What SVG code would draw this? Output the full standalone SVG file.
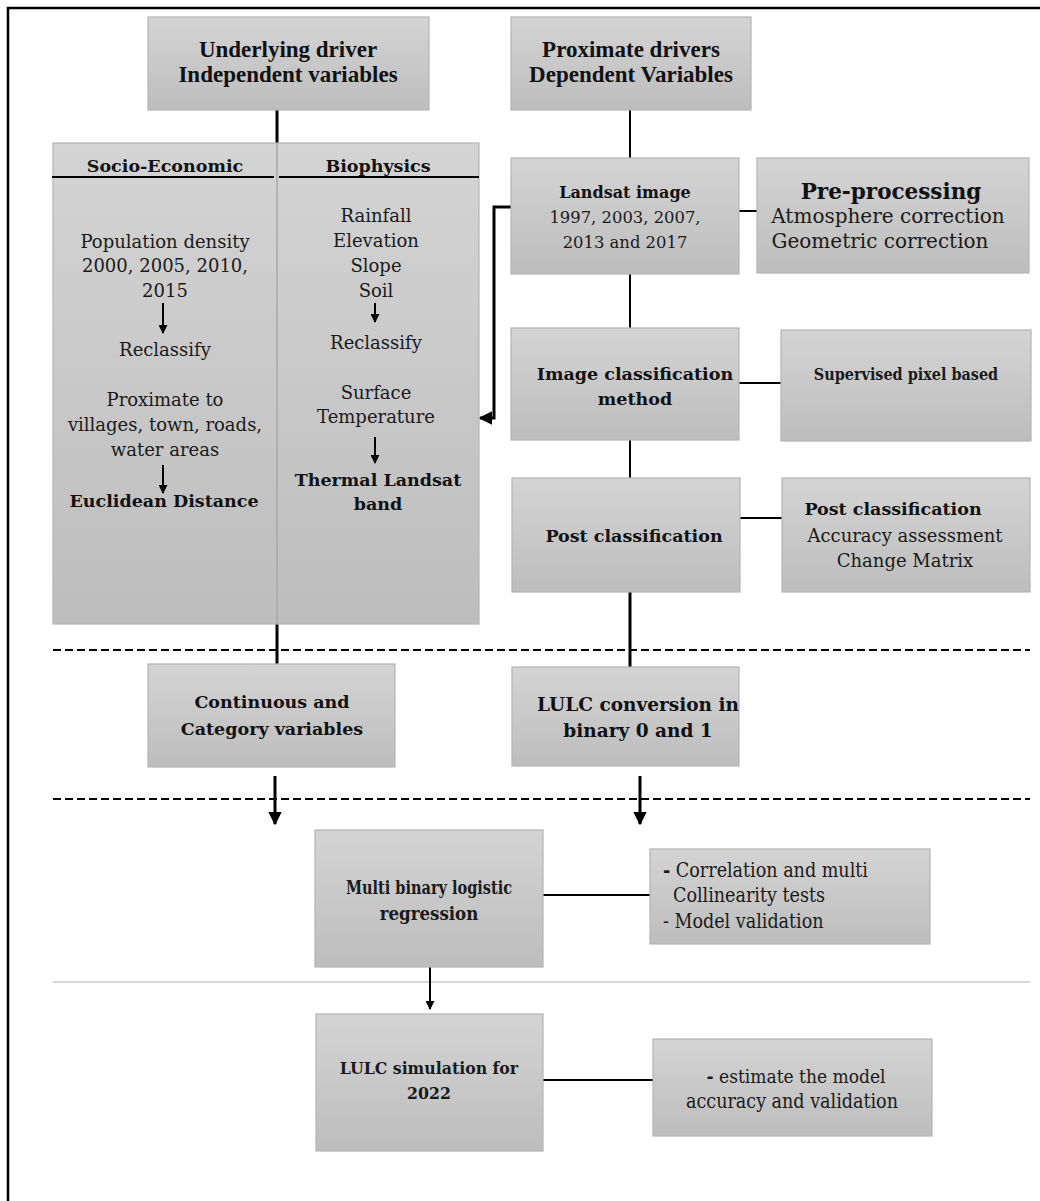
<svg xmlns="http://www.w3.org/2000/svg" width="1040" height="1201" viewBox="0 0 1040 1201">
  <style>
    .box { stroke: #b4b4b4; stroke-width: 1.2; fill: url(#boxFill); }
    .t { font-family: "DejaVu Serif", "Liberation Serif", serif; font-size: 18px; fill: #1a1a1a; text-anchor: middle; }
    .b { font-family: "DejaVu Serif", "Liberation Serif", serif; font-size: 17.5px; font-weight: bold; fill: #111; text-anchor: middle; }
    .c { font-family: "DejaVu Serif Condensed", "DejaVu Serif", serif; font-size: 17.5px; fill: #1a1a1a; text-anchor: middle; }
    .tb { font-family: "Liberation Serif", serif; font-size: 23px; font-weight: bold; fill: #111; text-anchor: middle; }
    .l { text-anchor: start; }
    .thick { stroke: #000; stroke-width: 3; fill: none; }
    .thin { stroke: #000; stroke-width: 2; fill: none; }
    .dash { stroke: #000; stroke-width: 2; stroke-dasharray: 8 4; fill: none; }
  </style>
  <defs>
    <linearGradient id="boxFill" x1="0" y1="0" x2="0" y2="1">
      <stop offset="0" stop-color="#d4d4d4"/>
      <stop offset="1" stop-color="#bdbdbd"/>
    </linearGradient>
    <marker id="ah" viewBox="0 0 10 10" refX="9" refY="5" markerWidth="4.5" markerHeight="4.5" orient="auto" markerUnits="strokeWidth">
      <path d="M0,0 L10,5 L0,10 z" fill="#000"/>
    </marker>
  </defs>

  <rect width="1040" height="1201" fill="#fff"/>
  <!-- page frame -->
  <path d="M8,1201 V8 H1040" stroke="#000" stroke-width="2.5" fill="none"/>

  <!-- section separators -->
  <g id="separators">
    <line class="dash" x1="53" y1="650" x2="1030" y2="650"/>
    <line class="dash" x1="53" y1="799" x2="1030" y2="799"/>
    <line x1="53" y1="982" x2="1030" y2="982" stroke="#c8c8c8" stroke-width="1.5"/>
  </g>

  <g id="connectors">
    <line class="thick" x1="277" y1="110" x2="277" y2="143"/>
    <line class="thin" x1="630" y1="110" x2="630" y2="158"/>
    <line class="thin" x1="630" y1="274" x2="630" y2="328"/>
    <line class="thin" x1="630" y1="440" x2="630" y2="478"/>
    <line class="thick" x1="630" y1="592" x2="630" y2="667"/>
    <line class="thick" x1="277" y1="624" x2="277" y2="664"/>
    <line class="thin" x1="739" y1="211" x2="757" y2="211"/>
    <line class="thin" x1="739" y1="383" x2="781" y2="383"/>
    <line class="thin" x1="740" y1="518" x2="782" y2="518"/>
    <line class="thin" x1="543" y1="895" x2="650" y2="895"/>
    <line class="thin" x1="543" y1="1080" x2="653" y2="1080"/>
    <path class="thick" d="M511,207 H494 V418 H480" marker-end="url(#ah)"/>
    <line class="thick" x1="275" y1="776" x2="275" y2="824" marker-end="url(#ah)"/>
    <line class="thick" x1="640" y1="776" x2="640" y2="824" marker-end="url(#ah)"/>
    <line class="thin" x1="430" y1="967" x2="430" y2="1009" marker-end="url(#ah)"/>
  </g>

  <g id="underlying">
    <rect class="box" x="148" y="17" width="281" height="93"/>
    <text class="tb" x="288" y="57">Underlying driver</text>
    <text class="tb" x="288" y="82">Independent variables</text>
  </g>

  <g id="proximate">
    <rect class="box" x="511" y="17" width="240" height="93"/>
    <text class="tb" x="631" y="57">Proximate drivers</text>
    <text class="tb" x="631" y="82">Dependent Variables</text>
  </g>

  <g id="drivers-panel">
    <rect class="box" x="53" y="143" width="426" height="481"/>
    <line x1="277" y1="143" x2="277" y2="624" stroke="#a8a8a8" stroke-width="1.5"/>
    <line x1="52" y1="177" x2="274" y2="177" stroke="#000" stroke-width="2"/>
    <line x1="279" y1="177" x2="479" y2="177" stroke="#000" stroke-width="2"/>
    <text class="b" x="165" y="172">Socio-Economic</text>
    <text class="b" x="378" y="172">Biophysics</text>

    <text class="t" x="165" y="248">Population density</text>
    <text class="t" x="165" y="272">2000, 2005, 2010,</text>
    <text class="t" x="165" y="297">2015</text>
    <line class="thin" x1="163" y1="303" x2="163" y2="333" marker-end="url(#ah)"/>
    <text class="t" x="165" y="356">Reclassify</text>
    <text class="t" x="165" y="406">Proximate to</text>
    <text class="t" x="165" y="431">villages, town, roads,</text>
    <text class="t" x="165" y="456">water areas</text>
    <line class="thin" x1="163" y1="465" x2="163" y2="493" marker-end="url(#ah)"/>
    <text class="b" x="164" y="507">Euclidean Distance</text>

    <text class="t" x="376" y="222">Rainfall</text>
    <text class="t" x="376" y="247">Elevation</text>
    <text class="t" x="376" y="272">Slope</text>
    <text class="t" x="376" y="297">Soil</text>
    <line class="thin" x1="375" y1="303" x2="375" y2="322" marker-end="url(#ah)"/>
    <text class="t" x="376" y="349">Reclassify</text>
    <text class="t" x="376" y="399">Surface</text>
    <text class="t" x="376" y="423">Temperature</text>
    <line class="thin" x1="375" y1="437" x2="375" y2="463" marker-end="url(#ah)"/>
    <text class="b" x="378" y="486">Thermal Landsat</text>
    <text class="b" x="378" y="510">band</text>
  </g>

  <g id="landsat">
    <rect class="box" x="511" y="158" width="228" height="116"/>
    <text class="b" x="625" y="198" style="font-size:16px">Landsat image</text>
    <text class="t" x="625" y="223" style="font-size:16.4px">1997, 2003, 2007,</text>
    <text class="t" x="625" y="248" style="font-size:16.4px">2013 and 2017</text>
  </g>

  <g id="preprocessing">
    <rect class="box" x="757" y="158" width="272" height="115"/>
    <text class="b" x="891" y="199" style="font-size:21.5px">Pre-processing</text>
    <text class="t" x="888" y="223" style="font-size:20px">Atmosphere correction</text>
    <text class="t" x="880" y="248" style="font-size:20px">Geometric correction</text>
  </g>

  <g id="classification">
    <rect class="box" x="511" y="328" width="228" height="112"/>
    <text class="b" x="635" y="380">Image classification</text>
    <text class="b" x="635" y="405">method</text>
  </g>

  <g id="supervised">
    <rect class="box" x="781" y="330" width="250" height="111"/>
    <text class="c" x="906" y="380" style="font-weight:bold;font-size:16px">Supervised pixel based</text>
  </g>

  <g id="post-classification">
    <rect class="box" x="512" y="478" width="228" height="114"/>
    <text class="b" x="634" y="542">Post classification</text>
  </g>

  <g id="post-assessment">
    <rect class="box" x="782" y="478" width="248" height="114"/>
    <text class="b" x="893" y="515">Post classification</text>
    <text class="t" x="905" y="542">Accuracy assessment</text>
    <text class="t" x="905" y="567">Change Matrix</text>
  </g>

  <g id="variables">
    <rect class="box" x="148" y="664" width="247" height="103"/>
    <text class="b" x="272" y="708">Continuous and</text>
    <text class="b" x="272" y="735">Category variables</text>
  </g>

  <g id="lulc-conversion">
    <rect class="box" x="512" y="667" width="227" height="99"/>
    <text class="b" x="638" y="711" style="font-size:18.5px">LULC conversion in</text>
    <text class="b" x="638" y="737" style="font-size:18.5px">binary 0 and 1</text>
  </g>

  <g id="regression">
    <rect class="box" x="315" y="830" width="228" height="137"/>
    <text class="c" x="429" y="894" style="font-weight:bold;font-size:18.5px" textLength="166" lengthAdjust="spacingAndGlyphs">Multi binary logistic</text>
    <text class="c" x="429" y="920" style="font-weight:bold;font-size:18.5px">regression</text>
  </g>

  <g id="tests">
    <rect class="box" x="650" y="849" width="280" height="95"/>
    <text class="c l" x="663" y="877" style="font-size:19.5px"><tspan font-weight="bold">-</tspan> Correlation and multi</text>
    <text class="c l" x="673" y="902" style="font-size:19.5px">Collinearity tests</text>
    <text class="c l" x="663" y="928" style="font-size:19.5px">- Model validation</text>
  </g>

  <g id="simulation">
    <rect class="box" x="316" y="1014" width="227" height="137"/>
    <text class="c" x="429" y="1074" style="font-weight:bold">LULC simulation for</text>
    <text class="c" x="429" y="1099" style="font-weight:bold">2022</text>
  </g>

  <g id="validation">
    <rect class="box" x="653" y="1039" width="279" height="97"/>
    <text class="c" x="796" y="1083" style="font-size:19px"><tspan font-weight="bold">-</tspan> estimate the model</text>
    <text class="c" x="792" y="1108" style="font-size:19.5px">accuracy and validation</text>
  </g>
</svg>
